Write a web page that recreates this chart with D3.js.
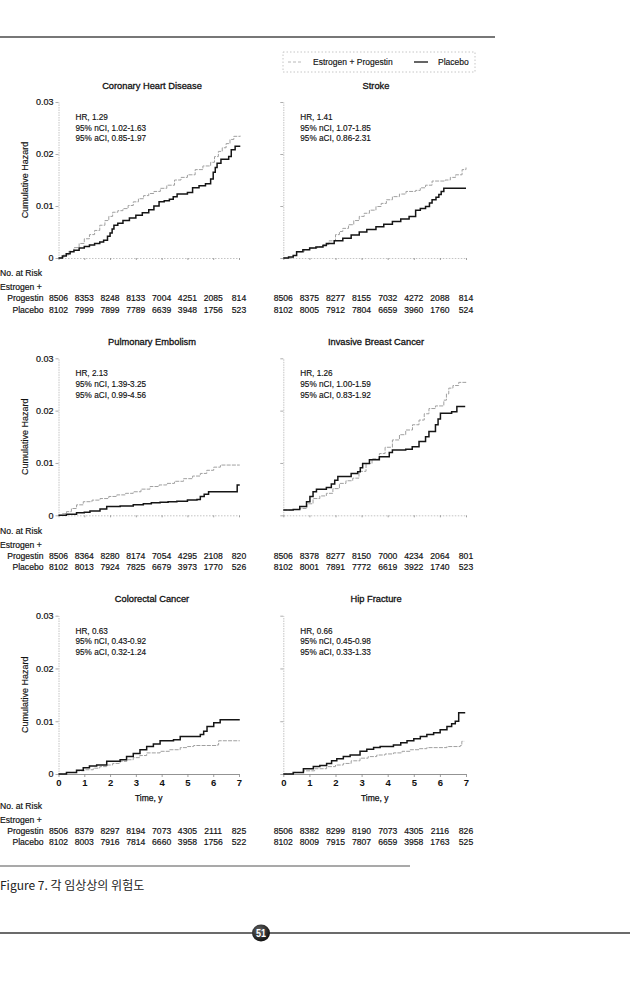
<!DOCTYPE html>
<html><head><meta charset="utf-8">
<script src="https://cdn.jsdelivr.net/npm/d3@7"></script>
<style>
html,body{margin:0;padding:0;background:#fff;}
svg{display:block;font-family:"Liberation Sans",Arial,Helvetica,sans-serif;}
</style></head>
<body>
<svg id="chart" width="630" height="987"></svg>
<script>
// ---------------- DATA ----------------
const years = [0,1,2,3,4,5,6,7];
const yTicks = [0,0.01,0.02,0.03];
const seriesNames = ["Estrogen + Progestin","Placebo"];

// Coronary Heart Disease
const chdEP = [[0,0],[0.2,0.0006],[0.4,0.0013],[0.6,0.002],[0.8,0.0028],[1.0,0.0037],[1.2,0.0045],[1.4,0.0053],[1.6,0.0063],[1.8,0.0072],[1.95,0.008],[2.1,0.0088],[2.3,0.0091],[2.5,0.0095],[2.7,0.0101],[2.9,0.0108],[3.1,0.0114],[3.3,0.012],[3.5,0.0124],[3.7,0.0128],[3.95,0.0134],[4.2,0.014],[4.5,0.015],[4.75,0.0155],[5.0,0.016],[5.3,0.017],[5.6,0.0177],[5.9,0.0184],[6.05,0.0195],[6.2,0.0205],[6.35,0.0212],[6.5,0.022],[6.65,0.0228],[6.8,0.0234],[7.05,0.0235]];
const chdPL = [[0,0],[0.15,0.0004],[0.3,0.0008],[0.45,0.0012],[0.6,0.0015],[0.8,0.0019],[1.0,0.0022],[1.2,0.0025],[1.4,0.0028],[1.6,0.0031],[1.75,0.0034],[1.9,0.0042],[2.0,0.0048],[2.08,0.0056],[2.15,0.0063],[2.3,0.0067],[2.5,0.0072],[2.75,0.0077],[3.0,0.0082],[3.25,0.0087],[3.5,0.0093],[3.7,0.01],[3.9,0.0108],[4.1,0.011],[4.3,0.0113],[4.45,0.0118],[4.6,0.0123],[5.0,0.0126],[5.2,0.0135],[5.45,0.0139],[5.7,0.0143],[5.9,0.0152],[6.0,0.0165],[6.08,0.0174],[6.15,0.0182],[6.3,0.019],[6.6,0.0195],[6.7,0.0208],[6.85,0.0215],[7.05,0.0215]];
const chdHR = ["HR, 1.29","95% nCI, 1.02-1.63","95% aCI, 0.85-1.97"];
const chdRiskEP = [8506,8353,8248,8133,7004,4251,2085,814];
const chdRiskPL = [8102,7999,7899,7789,6639,3948,1756,523];

// Stroke
const strokeEP = [[0,0],[0.38,0.0005],[0.51,0.0012],[0.8,0.0016],[1.01,0.0019],[1.3,0.0022],[1.52,0.0026],[1.75,0.0033],[2.0,0.0045],[2.15,0.0051],[2.28,0.0057],[2.5,0.0064],[2.7,0.0072],[2.91,0.008],[3.1,0.0086],[3.3,0.0092],[3.55,0.0099],[3.75,0.0105],[3.95,0.0112],[4.18,0.0118],[4.45,0.0123],[4.7,0.0128],[5.07,0.013],[5.25,0.0135],[5.45,0.014],[5.7,0.0148],[6.2,0.015],[6.4,0.0155],[6.6,0.016],[6.85,0.017],[7.0,0.0174]];
const strokePL = [[0,0],[0.2,0.0002],[0.38,0.0005],[0.51,0.0012],[0.75,0.0016],[1.01,0.0019],[1.25,0.0021],[1.52,0.0024],[1.65,0.0028],[1.95,0.0033],[2.28,0.0038],[2.6,0.0044],[2.91,0.005],[3.2,0.0055],[3.55,0.006],[3.85,0.0065],[4.18,0.007],[4.5,0.0075],[4.82,0.008],[5.07,0.0092],[5.25,0.0095],[5.45,0.0099],[5.6,0.0106],[5.7,0.0112],[5.85,0.0117],[5.96,0.0122],[6.05,0.0128],[6.15,0.0134],[7.0,0.0134]];
const strokeHR = ["HR, 1.41","95% nCI, 1.07-1.85","95% aCI, 0.86-2.31"];
const strokeRiskEP = [8506,8375,8277,8155,7032,4272,2088,814];
const strokeRiskPL = [8102,8005,7912,7804,6659,3960,1760,524];

// Pulmonary Embolism
const peEP = [[0,0],[0.15,0.0003],[0.31,0.0007],[0.5,0.0013],[0.7,0.002],[0.96,0.0026],[1.3,0.0029],[1.61,0.0032],[1.95,0.0036],[2.26,0.0039],[2.6,0.0042],[2.9,0.0045],[3.2,0.005],[3.55,0.0055],[3.9,0.0058],[4.2,0.0061],[4.5,0.0065],[4.85,0.007],[5.2,0.0075],[5.5,0.008],[5.75,0.0086],[6.02,0.0092],[6.28,0.0096],[7.03,0.0096]];
const pePL = [[0,0],[0.31,0.0002],[0.7,0.0005],[1.0,0.0006],[1.22,0.0008],[1.61,0.0012],[1.87,0.0017],[2.39,0.0018],[2.9,0.002],[3.29,0.0022],[3.6,0.0024],[3.94,0.0025],[4.25,0.0026],[4.59,0.0027],[5.0,0.0029],[5.37,0.003],[5.5,0.0036],[5.65,0.004],[5.82,0.0045],[6.8,0.0045],[6.93,0.0058],[7.03,0.0058]];
const peHR = ["HR, 2.13","95% nCI, 1.39-3.25","95% aCI, 0.99-4.56"];
const peRiskEP = [8506,8364,8280,8174,7054,4295,2108,820];
const peRiskPL = [8102,8013,7924,7825,6679,3973,1770,526];

// Invasive Breast Cancer
const ibcEP = [[0,0.001],[0.4,0.0011],[0.63,0.0013],[0.9,0.0022],[1.14,0.0032],[1.4,0.0037],[1.65,0.0042],[1.9,0.0051],[2.15,0.0061],[2.4,0.0066],[2.66,0.0071],[2.9,0.0084],[3.17,0.0099],[3.4,0.0108],[3.68,0.0118],[3.9,0.013],[4.18,0.0144],[4.45,0.0154],[4.69,0.0163],[4.95,0.0173],[5.2,0.0182],[5.4,0.0194],[5.58,0.0204],[5.83,0.0209],[6.15,0.022],[6.25,0.0232],[6.34,0.0243],[6.5,0.0248],[6.72,0.0254],[7.0,0.0255]];
const ibcPL = [[0,0.001],[0.38,0.0011],[0.63,0.0017],[0.89,0.0026],[1.02,0.0036],[1.14,0.0045],[1.27,0.005],[1.65,0.0053],[1.84,0.006],[1.97,0.0067],[2.09,0.0074],[2.6,0.008],[2.85,0.0083],[2.95,0.0091],[3.04,0.0099],[3.3,0.0106],[3.68,0.0112],[4.06,0.012],[4.18,0.0125],[4.69,0.0126],[4.94,0.0131],[5.2,0.0141],[5.45,0.015],[5.58,0.016],[5.83,0.0173],[5.93,0.0184],[6.02,0.0195],[6.45,0.0198],[6.65,0.0208],[6.97,0.0208]];
const ibcHR = ["HR, 1.26","95% nCI, 1.00-1.59","95% aCI, 0.83-1.92"];
const ibcRiskEP = [8506,8378,8277,8150,7000,4234,2064,801];
const ibcRiskPL = [8102,8001,7891,7772,6619,3922,1740,523];

// Colorectal Cancer
const crcEP = [[0,0],[0.3,0.0003],[0.7,0.0006],[1.0,0.0008],[1.35,0.0011],[1.6,0.0014],[1.87,0.0017],[2.1,0.002],[2.39,0.0024],[2.65,0.0027],[2.9,0.0031],[3.15,0.0035],[3.42,0.004],[3.94,0.0043],[4.3,0.0046],[4.72,0.005],[5.0,0.0052],[5.24,0.0054],[6.15,0.0055],[6.21,0.0063],[7.03,0.0063]];
const crcPL = [[0,0],[0.31,0.0003],[0.7,0.0007],[0.96,0.0012],[1.2,0.0015],[1.48,0.0017],[1.87,0.0024],[2.39,0.0027],[2.64,0.0033],[2.9,0.0039],[3.16,0.0046],[3.42,0.0052],[3.68,0.0057],[3.94,0.0063],[4.46,0.0065],[4.72,0.0071],[5.5,0.0075],[5.63,0.0081],[5.76,0.009],[6.02,0.0097],[6.27,0.0103],[7.03,0.0103]];
const crcHR = ["HR, 0.63","95% nCI, 0.43-0.92","95% aCI, 0.32-1.24"];
const crcRiskEP = [8506,8379,8297,8194,7073,4305,2111,825];
const crcRiskPL = [8102,8003,7916,7814,6660,3958,1756,522];

// Hip Fracture
const hipEP = [[0,0],[0.4,0.0003],[0.77,0.0006],[1.2,0.001],[1.66,0.0014],[2.0,0.0017],[2.3,0.002],[2.6,0.0025],[2.94,0.003],[3.25,0.0033],[3.58,0.0036],[3.9,0.0038],[4.22,0.004],[4.55,0.0043],[4.86,0.0046],[5.2,0.0048],[5.5,0.005],[6.27,0.0052],[6.78,0.0054],[6.84,0.0062],[6.93,0.0062]];
const hipPL = [[0,0],[0.38,0.0003],[0.77,0.001],[1.15,0.0014],[1.4,0.0016],[1.66,0.002],[1.85,0.0025],[2.05,0.0029],[2.3,0.0033],[2.56,0.0036],[2.94,0.0043],[3.2,0.0047],[3.46,0.005],[3.71,0.0052],[4.22,0.0055],[4.5,0.0059],[4.74,0.0063],[5.0,0.0067],[5.25,0.0071],[5.5,0.0075],[5.76,0.0078],[6.01,0.0084],[6.27,0.009],[6.45,0.0095],[6.59,0.01],[6.72,0.0116],[6.97,0.0116]];
const hipHR = ["HR, 0.66","95% nCI, 0.45-0.98","95% aCI, 0.33-1.33"];
const hipRiskEP = [8506,8382,8299,8190,7073,4305,2116,826];
const hipRiskPL = [8102,8009,7915,7807,6659,3958,1763,525];

const titles = ["Coronary Heart Disease","Stroke","Pulmonary Embolism","Invasive Breast Cancer","Colorectal Cancer","Hip Fracture"];
const captionText = "Figure 7. 각 임상상의 위험도";
const pageNumber = "51";

// ---------------- LAYOUT ----------------
const svg = d3.select("#chart");
const FONT = '"Liberation Sans",Arial,Helvetica,sans-serif';
const cols = [{x0:58.5,x1:239},{x0:283.3,x1:466}];
const rows = [
  {y0:258, y3:102, risk:276, xlabels:false},
  {y0:515.3, y3:358.3, risk:533.5, xlabels:false},
  {y0:774, y3:615.7, risk:808.5, xlabels:true}
];
const panels = [
  {ep:chdEP, pl:chdPL, hr:chdHR, rEP:chdRiskEP, rPL:chdRiskPL},
  {ep:strokeEP, pl:strokePL, hr:strokeHR, rEP:strokeRiskEP, rPL:strokeRiskPL},
  {ep:peEP, pl:pePL, hr:peHR, rEP:peRiskEP, rPL:peRiskPL},
  {ep:ibcEP, pl:ibcPL, hr:ibcHR, rEP:ibcRiskEP, rPL:ibcRiskPL},
  {ep:crcEP, pl:crcPL, hr:crcHR, rEP:crcRiskEP, rPL:crcRiskPL},
  {ep:hipEP, pl:hipPL, hr:hipHR, rEP:hipRiskEP, rPL:hipRiskPL}
];

// top rule
svg.append("line").attr("x1",0).attr("x2",495).attr("y1",37).attr("y2",37)
  .attr("stroke","#4a4a4a").attr("stroke-width",1.4);

// legend
const lg = svg.append("g");
lg.append("rect").attr("x",283).attr("y",52).attr("width",192).attr("height",20)
  .attr("fill","none").attr("stroke","#b8b8b8").attr("stroke-width",0.8).attr("stroke-dasharray","1.5,2");
lg.append("line").attr("x1",288).attr("x2",303).attr("y1",62).attr("y2",62)
  .attr("stroke","#b0b0b0").attr("stroke-width",0.9).attr("stroke-dasharray","3,2");
lg.append("text").attr("x",313).attr("y",65).text(seriesNames[0])
  .attr("font-size",8.5).attr("fill","#111").attr("font-family",FONT).attr("stroke","#111").attr("stroke-width",0.15);
lg.append("line").attr("x1",414).attr("x2",428).attr("y1",62).attr("y2",62)
  .attr("stroke","#111").attr("stroke-width",1.3);
lg.append("text").attr("x",438).attr("y",65).text(seriesNames[1])
  .attr("font-size",8.5).attr("fill","#111").attr("font-family",FONT).attr("stroke","#111").attr("stroke-width",0.15);

panels.forEach((p,i)=>{
  const c = cols[i%2], r = rows[Math.floor(i/2)];
  const x = d3.scaleLinear().domain([0,7]).range([c.x0,c.x1]);
  const y = d3.scaleLinear().domain([0,0.03]).range([r.y0,r.y3]);
  const g = svg.append("g");

  // title
  g.append("text").attr("x",(i%2===0)?152:376).attr("y",r.y3-13.5)
    .attr("text-anchor","middle").attr("font-size",9.3).attr("font-family",FONT)
    .attr("fill","#111").attr("stroke","#111").attr("stroke-width",0.3).text(titles[i]);

  // y axis
  const ya = d3.axisLeft(y).tickValues(yTicks).tickSize(3).tickSizeOuter(0)
    .tickFormat(i%2===0 ? (d=> d===0?"0":d3.format(".2f")(d)) : "");
  const yg = g.append("g").attr("transform",`translate(${c.x0},0)`).call(ya);
  yg.select(".domain").attr("stroke","#b5b5b5").attr("stroke-width",0.8).attr("stroke-dasharray","1.5,1");
  yg.selectAll(".tick line").attr("stroke","#999").attr("stroke-width",0.8);
  yg.selectAll(".tick text").attr("font-size",9).attr("font-family",FONT).attr("fill","#111")
    .attr("x",-5).attr("stroke","#111").attr("stroke-width",0.2);

  // x axis
  const xa = d3.axisBottom(x).tickValues(years).tickSize(r.xlabels?3:2).tickSizeOuter(0)
    .tickFormat(r.xlabels ? d3.format("d") : "");
  const xg = g.append("g").attr("transform",`translate(0,${r.y0})`).call(xa);
  xg.select(".domain").attr("stroke", r.xlabels?"#777":"#b5b5b5").attr("stroke-width",0.8)
    .attr("stroke-dasharray", r.xlabels?null:"1.5,1.5");
  xg.selectAll(".tick line").attr("stroke","#888").attr("stroke-width",0.8);
  xg.selectAll(".tick text").attr("font-size",9.5).attr("font-family",FONT).attr("fill","#111")
    .attr("font-weight","bold").attr("y",5);

  if(r.xlabels){
    g.append("text").attr("x",(c.x0+c.x1)/2).attr("y",r.y0+26.5).attr("text-anchor","middle")
      .attr("font-size",8.5).attr("font-family",FONT).attr("fill","#111")
      .attr("stroke","#111").attr("stroke-width",0.25).text("Time, y");
  }

  // y label
  if(i%2===0){
    g.append("text").attr("transform",`translate(25,${(r.y0+r.y3)/2}) rotate(-90)`)
      .attr("text-anchor","middle").attr("dy","0.35em").attr("font-size",9).attr("font-family",FONT)
      .attr("fill","#111").attr("stroke","#111").attr("stroke-width",0.15).text("Cumulative Hazard");
  }

  // curves
  const line = d3.line().x(d=>x(d[0])).y(d=>y(d[1])).curve(d3.curveStepAfter);
  g.append("path").datum(p.ep).attr("d",line).attr("fill","none")
    .attr("stroke","#a0a0a0").attr("stroke-width",1).attr("stroke-dasharray","4,1.2");
  g.append("path").datum(p.pl).attr("d",line).attr("fill","none")
    .attr("stroke","#151515").attr("stroke-width",1.5);

  // HR text
  p.hr.forEach((t,k)=>{
    g.append("text").attr("x",c.x0+17).attr("y",r.y3+18+k*10.6).text(t)
      .attr("font-size",8.2).attr("font-family",FONT).attr("fill","#111")
      .attr("stroke","#111").attr("stroke-width",0.15);
  });

  // risk table
  if(i%2===0){
    const lab = [["No. at Risk",0,"start",0],["Estrogen +",14,"start",0],["Progestin",25,"end",43.5],["Placebo",36.5,"end",43.5]];
    lab.forEach(l=>{
      g.append("text").attr("x",l[3]).attr("y",r.risk+l[1]).attr("text-anchor",l[2]).text(l[0])
        .attr("font-size",8.6).attr("font-family",FONT).attr("fill","#111")
        .attr("stroke","#111").attr("stroke-width",0.18);
    });
  }
  [[p.rEP,25],[p.rPL,36.5]].forEach(([arr,dy])=>{
    g.selectAll(null).data(arr).enter().append("text")
      .attr("x",(d,j)=>x(years[j])).attr("y",r.risk+dy).attr("text-anchor","middle")
      .attr("font-size",8.6).attr("font-family",FONT).attr("fill","#111")
      .attr("stroke","#111").attr("stroke-width",0.18).text(d=>d);
  });
});

// caption rule & caption
svg.append("line").attr("x1",0).attr("x2",410).attr("y1",866).attr("y2",866)
  .attr("stroke","#555").attr("stroke-width",1.2);
svg.append("text").attr("x",0).attr("y",889.5).text(captionText)
  .attr("font-size",12).attr("font-family",'"Noto Sans CJK KR","Noto Sans",sans-serif').attr("fill","#222");

// page footer
svg.append("line").attr("x1",0).attr("x2",630).attr("y1",933).attr("y2",933)
  .attr("stroke","#3a3a3a").attr("stroke-width",1.4);
const grad = svg.append("defs").append("radialGradient").attr("id","pg").attr("cx","40%").attr("cy","35%").attr("r","65%");
grad.append("stop").attr("offset","0%").attr("stop-color","#666");
grad.append("stop").attr("offset","100%").attr("stop-color","#111");
svg.append("ellipse").attr("cx",261).attr("cy",933).attr("rx",9).attr("ry",8.5).attr("fill","url(#pg)");
svg.append("text").attr("x",261).attr("y",936.5).attr("text-anchor","middle").text(pageNumber)
  .attr("font-size",10).attr("font-weight","bold").attr("font-family",FONT).attr("fill","#fff")
  .attr("textLength",10).attr("lengthAdjust","spacingAndGlyphs");
</script>
</body></html>
